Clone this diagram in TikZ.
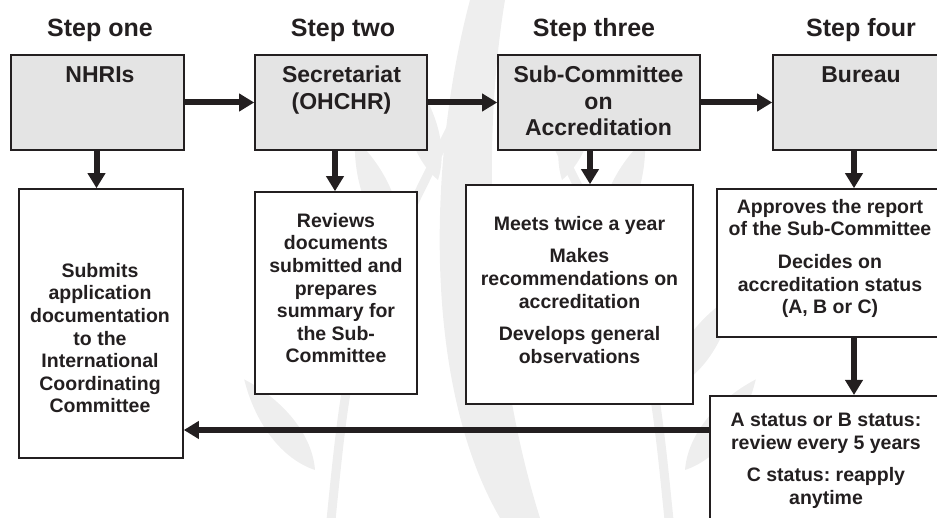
\documentclass[tikz,border=0pt]{standalone}
\usepackage{fontspec}
\setmainfont{Liberation Sans}
\usetikzlibrary{positioning,calc,arrows.meta}
\definecolor{ink}{RGB}{35,31,32}
\definecolor{boxgray}{RGB}{228,228,228}
\definecolor{leafgray}{RGB}{238,238,238}
\frenchspacing
\tikzset{font=\bfseries, text=ink}
\tikzset{
	stagebox/.style={draw=ink, line width=1.6pt, fill=boxgray, minimum height=95pt, inner sep=0pt},
	notebox/.style={draw=ink, line width=1.6pt, fill=white, inner sep=0pt},
	notetext/.style={anchor=north, inner sep=0pt, align=center,
		font=\fontsize{19.5}{22.6}\selectfont\bfseries},
	flow/.style={draw=ink, line width=6pt, -{Triangle[length=15pt,width=17pt]}},
	steplabel/.style={anchor=base, font=\fontsize{25}{30}\selectfont\bfseries},
	stagetitle/.style={anchor=north, inner sep=0pt, align=center,
		font=\fontsize{23}{26.5}\selectfont\bfseries},
	leaf/.style={fill=leafgray, draw=none},
}

\begin{document}
\begin{tikzpicture}[x=1pt, y=-1pt]
	\useasboundingbox (0,0) rectangle (937,518);
	\clip (0,0) rectangle (937,518);

	% watermark
	\draw[leafgray, line width=9pt] (330,530) .. controls (350,330) .. (455,120);
	\draw[leafgray, line width=9pt] (670,530) .. controls (650,330) .. (545,120);
	\foreach \px/\py/\ang in {315/470/128, 330/390/124, 360/315/118, 398/245/112, 438/180/106} {
		\fill[leaf, shift={(\px,\py)}, rotate=\ang]
			(0,0) .. controls (30,20) and (75,18) .. (115,0) .. controls (75,-18) and (30,-20) .. (0,0);
	}
	\foreach \px/\py/\ang in {685/470/52, 670/390/56, 640/315/62, 602/245/68, 562/180/74} {
		\fill[leaf, shift={(\px,\py)}, rotate=\ang]
			(0,0) .. controls (30,20) and (75,18) .. (115,0) .. controls (75,-18) and (30,-20) .. (0,0);
	}
	\fill[leaf] (500,518) .. controls (420,380) and (430,150) .. (470,0)
		-- (505,0) .. controls (480,150) and (490,360) .. (540,518) -- cycle;

	% headings
	\node[steplabel] (h1) at (100,37) {Step one};
	\node[steplabel] (h2) at (343,37) {Step two};
	\node[steplabel] (h3) at (594,37) {Step three};
	\node[steplabel] (h4) at (861,37) {Step four};

	% grey stage boxes
	\node[stagebox, minimum width=173pt] (nhri) at (97.5,102.5) {};
	\node[stagebox, minimum width=172pt] (sec) at (341,102.5) {};
	\node[stagebox, minimum width=202pt] (sca) at (599,102.5) {};
	\node[stagebox, minimum width=176pt] (bur) at (861,102.5) {};

	\node[stagetitle] (nhrit) at (100,66) {NHRIs};
	\node[stagetitle] (sect) at (341.5,66) {Secretariat\\(OHCHR)};
	\node[stagetitle] (scat) at (598.5,66) {Sub-Committee\\on\\Accreditation};
	\node[stagetitle] (burt) at (861,66) {Bureau};

	% white boxes
	\node[notebox, minimum width=164pt, minimum height=269pt] (submit) at (101,323.5) {};
	\node[notebox, minimum width=162pt, minimum height=202pt] (review) at (336,293) {};
	\node[notebox, minimum width=227pt, minimum height=219pt] (meets) at (579.5,294.5) {};
	\node[notebox, minimum width=226pt, minimum height=148pt] (approve) at (830,263) {};
	\node[notebox, minimum width=236pt, minimum height=160pt, anchor=north west] (status) at (709,395) {};

	\node[notetext] (submitt) at (100,263)
		{Submits\\application\\documentation\\to the\\International\\Coordinating\\Committee};
	\node[notetext] (reviewt) at (336,213)
		{Reviews\\documents\\submitted and\\prepares\\summary for\\the Sub-\\Committee};
	\node[notetext] (meetst) at (579.5,216)
		{Meets twice a year\\[10pt]Makes\\recommendations on\\accreditation\\[10pt]Develops general\\observations};
	\node[notetext] (approvet) at (830,199)
		{Approves the report\\of the Sub-Committee\\[10pt]Decides on\\accreditation status\\(A, B or C)};
	\node[notetext] (statust) at (826,413)
		{A status or B status:\\review every 5 years\\[10pt]C status: reapply\\anytime};

	\coordinate (back) at (0,430);

	% connectors
	\draw[flow] (nhri) -- (sec);
	\draw[flow] (sec) -- (sca);
	\draw[flow] (sca) -- (bur);
	\draw[flow] ([xshift=-1pt]nhri.south) -- ([xshift=-1pt]nhri.south |- submit.north);
	\draw[flow] ([xshift=-6pt]sec.south) -- ([xshift=-6pt]sec.south |- review.north);
	\draw[flow] ([xshift=-9pt]sca.south) -- ([xshift=-9pt]sca.south |- meets.north);
	\draw[flow] ([xshift=-7pt]bur.south) -- ([xshift=-7pt]bur.south |- approve.north);
	\draw[flow] ([xshift=-7pt]bur.south |- approve.south) -- ([xshift=-7pt]bur.south |- status.north);
	\draw[flow] (status.west |- back) -- (submit.east |- back);
\end{tikzpicture}
\end{document}
